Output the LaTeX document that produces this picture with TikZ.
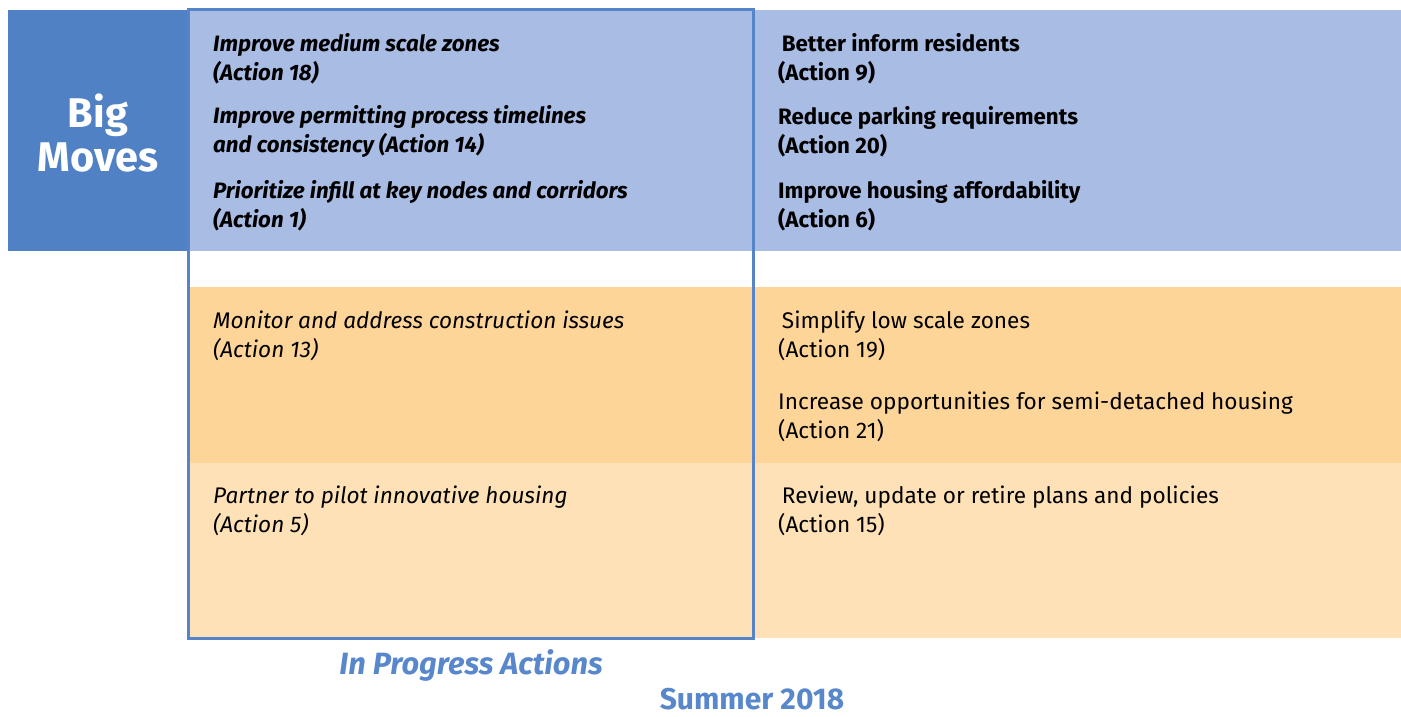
\documentclass[tikz,border=0pt]{standalone}
\usepackage{fontspec}
\setmainfont{Fira Sans}
\usepackage{tikz}
\usetikzlibrary{positioning}

\definecolor{movesblue}{HTML}{4F81C4}
\definecolor{bandblue}{HTML}{A9BCE4}
\definecolor{rowdeep}{HTML}{FED598}
\definecolor{rowpale}{HTML}{FEE1B6}
\definecolor{edgeblue}{HTML}{5585C8}
\definecolor{titleblue}{HTML}{5887CC}

\begin{document}
\begin{tikzpicture}[
  x=1pt, y=-1pt,
  item/.style={anchor=west, align=left, inner sep=0pt, font=\fontsize{22.6}{29}\selectfont},
  bigitem/.style={item, font=\fontsize{22.3}{29}\selectfont\bfseries\itshape},
  bolditem/.style={item, font=\fontsize{22.3}{29}\selectfont\bfseries},
  slantitem/.style={item, font=\fontsize{22.6}{29}\selectfont\itshape},
  caption/.style={inner sep=0pt, text=titleblue, font=\fontsize{30}{34}\selectfont\bfseries}
]
\useasboundingbox (0,0) rectangle (1401,717);

% bands
\fill[bandblue] (188,10) rectangle (1401,251);
\fill[movesblue] (8,10) rectangle (188,251);
\fill[rowdeep] (188,287) rectangle (1401,463);
\fill[rowpale] (188,463) rectangle (1401,638);
\draw[edgeblue, line width=3pt] (188,10) rectangle (753,638);

\node[inner sep=0pt, align=center, text=white, font=\fontsize{41.5}{44}\selectfont\bfseries]
  (bigmoves) at (98,133) {Big\\Moves};

% big moves, in progress
\node[bigitem] (act18) at (213,58.5) {Improve medium scale zones\\(Action 18)};
\node[bigitem] (act14) at (213,131.5) {Improve permitting process timelines\\and consistency (Action 14)};
\node[bigitem] (act1)  at (213,205.5) {Prioritize infill at key nodes and corridors\\(Action 1)};
% big moves, later
\node[bolditem] (act9)  at (778,58.5) {\,Better inform residents\\(Action 9)};
\node[bolditem] (act20) at (778,131.5) {Reduce parking requirements\\(Action 20)};
\node[bolditem] (act6)  at (778,205.5) {Improve housing affordability\\(Action 6)};

% other actions
\node[slantitem] (act13) at (213,335.5) {Monitor and address construction issues\\(Action 13)};
\node[slantitem] (act5)  at (213,511) {Partner to pilot innovative housing\\(Action 5)};
\node[item] (act19) at (778,335.5) {\,Simplify low scale zones\\(Action 19)};
\node[item] (act21) at (778,416.5) {Increase opportunities for semi-detached housing\\(Action 21)};
\node[item] (act15) at (778,511) {\,Review, update or retire plans and policies\\(Action 15)};

% captions
\node[caption, font=\fontsize{30.8}{34}\selectfont\bfseries\itshape] (inprog) at (471,665) {In Progress Actions};
\node[caption] (season) at (752,699) {Summer 2018};
\end{tikzpicture}
\end{document}
